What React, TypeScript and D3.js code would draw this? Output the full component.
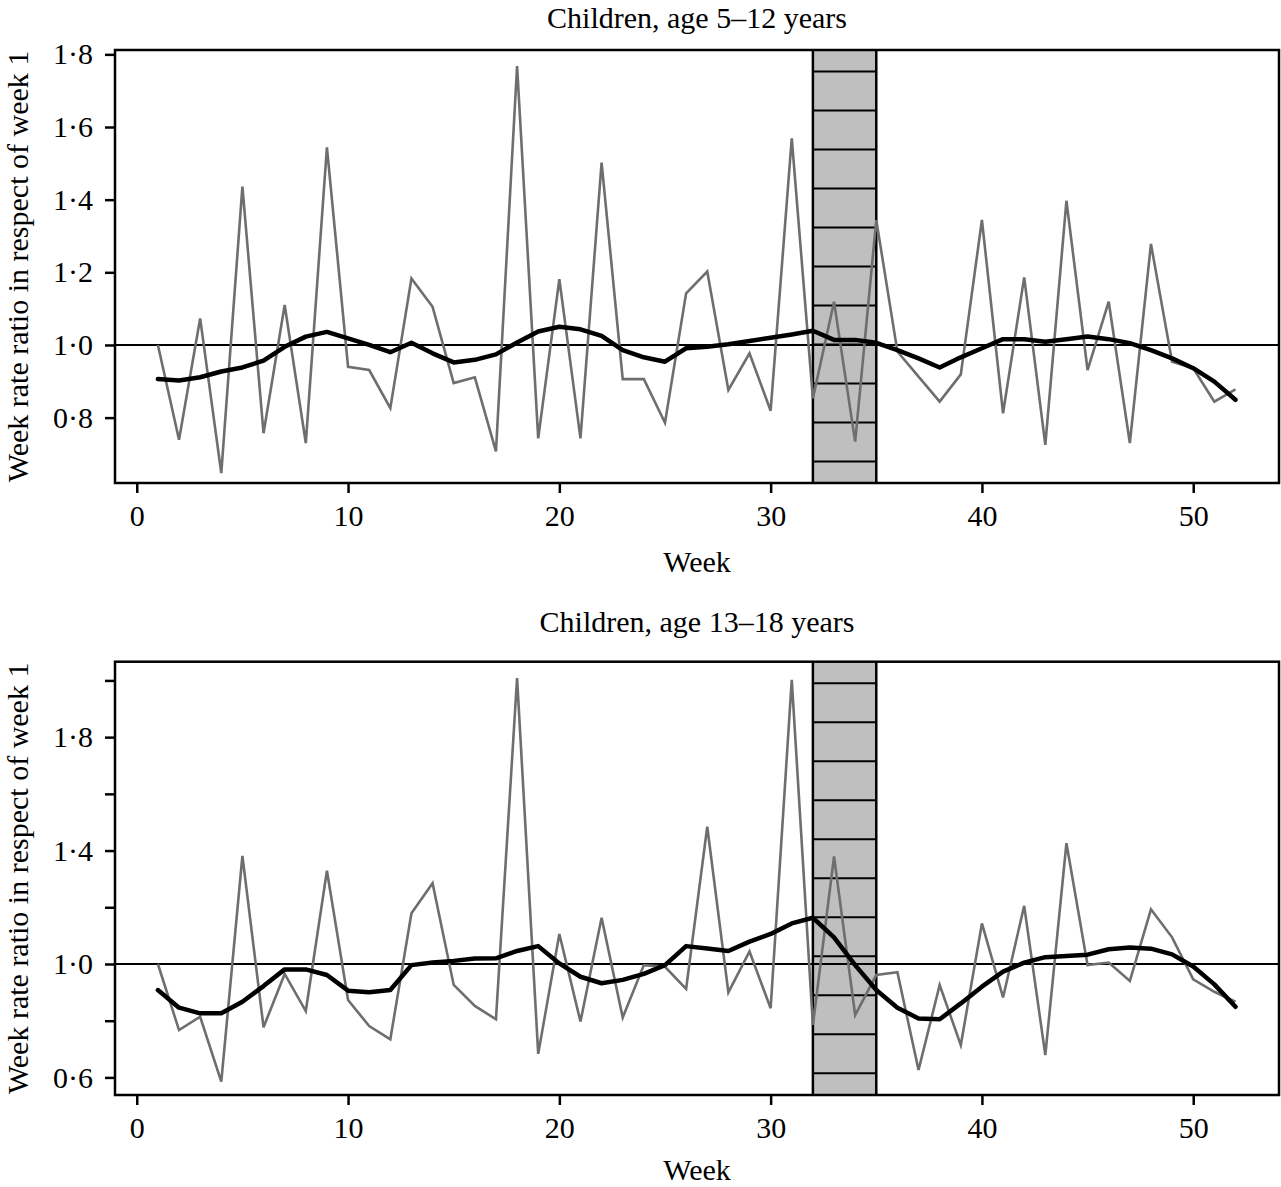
import { useEffect, useRef } from 'react';
import * as d3 from 'd3';

const weeks = [
  1, 2, 3, 4, 5, 6, 7, 8, 9, 10, 11, 12, 13, 14, 15, 16, 17, 18, 19, 20, 21, 22, 23, 24, 25, 26,
  27, 28, 29, 30, 31, 32, 33, 34, 35, 36, 37, 38, 39, 40, 41, 42, 43, 44, 45, 46, 47, 48, 49, 50,
  51, 52,
];

// age 5-12: weekly rate ratio (grey) and smoothed trend (black)
const rate5to12 = [
  1.0, 0.739, 1.073, 0.647, 1.436, 0.757, 1.11, 0.73, 1.544, 0.94, 0.931, 0.826, 1.183, 1.105,
  0.895, 0.911, 0.707, 1.768, 0.743, 1.181, 0.743, 1.502, 0.906, 0.906, 0.786, 1.142, 1.202, 0.876,
  0.977, 0.819, 1.569, 0.853, 1.119, 0.734, 1.344, 0.982, 0.913, 0.844, 0.919, 1.344, 0.812, 1.186,
  0.725, 1.397, 0.931, 1.119, 0.73, 1.278, 0.954, 0.936, 0.844, 0.878,
];
const smooth5to12 = [
  0.906, 0.902, 0.911, 0.927, 0.938, 0.957, 0.995, 1.023, 1.036, 1.018, 1.0, 0.98, 1.006, 0.977,
  0.952, 0.959, 0.974, 1.007, 1.037, 1.05, 1.043, 1.025, 0.986, 0.966, 0.954, 0.991, 0.995, 1.002,
  1.011, 1.02, 1.029, 1.039, 1.014, 1.014, 1.006, 0.986, 0.963, 0.938, 0.966, 0.991, 1.016, 1.016,
  1.009, 1.016, 1.023, 1.016, 1.005, 0.986, 0.963, 0.936, 0.899, 0.849,
];

// age 13-18
const rate13to18 = [
  1.0, 0.767, 0.814, 0.585, 1.381, 0.777, 0.965, 0.834, 1.329, 0.873, 0.781, 0.734, 1.179, 1.285,
  0.926, 0.852, 0.805, 2.008, 0.683, 1.106, 0.797, 1.163, 0.811, 0.996, 0.99, 0.912, 1.484, 0.9,
  1.044, 0.844, 2.002, 0.785, 1.379, 0.82, 0.961, 0.971, 0.626, 0.926, 0.714, 1.143, 0.882, 1.205,
  0.679, 1.426, 0.996, 1.005, 0.94, 1.193, 1.094, 0.946, 0.902, 0.867,
];
const smooth13to18 = [
  0.908, 0.846, 0.826, 0.826, 0.867, 0.922, 0.981, 0.981, 0.961, 0.906, 0.9, 0.908, 0.996, 1.005,
  1.011, 1.019, 1.02, 1.046, 1.063, 1.002, 0.955, 0.932, 0.944, 0.965, 0.996, 1.063, 1.055, 1.046,
  1.079, 1.106, 1.143, 1.163, 1.094, 0.996, 0.908, 0.846, 0.808, 0.805, 0.861, 0.92, 0.973, 1.005,
  1.024, 1.028, 1.033, 1.052, 1.058, 1.054, 1.034, 0.991, 0.928, 0.849,
];

const holidayWeeks = [32, 35];
const xTicks = [0, 10, 20, 30, 40, 50];
const yTicks5to12 = [0.8, 1.0, 1.2, 1.4, 1.6, 1.8];
const yTicks13to18 = [0.6, 0.8, 1.0, 1.2, 1.4, 1.6, 1.8, 2.0];
const yLabels13to18 = [0.6, 1.0, 1.4, 1.8];
const titles = ['Children, age 5–12 years', 'Children, age 13–18 years'];

const W = 1281;
const H = 1187;
const FONT = '"Liberation Serif", "DejaVu Serif", serif';

export default function App() {
  const svgRef = useRef<SVGSVGElement>(null);

  useEffect(() => {
    if (!svgRef.current) return;
    const root = d3.select(svgRef.current);
    root.selectAll('*').remove();

    const left = 115;
    const right = 1279;
    const x = d3.scaleLinear().domain([-1.03, 54.06]).range([left, right]);
    const dot = (v: number) => d3.format('.1f')(v).replace('.', '·');

    const panels = [
      {
        title: titles[0], rate: rate5to12, smooth: smooth5to12,
        domain: [0.62, 1.812], top: 50, bottom: 483,
        ticks: yTicks5to12, labels: yTicks5to12, titleY: 28, weekY: 572,
      },
      {
        title: titles[1], rate: rate13to18, smooth: smooth13to18,
        domain: [0.538, 2.066], top: 661.7, bottom: 1095,
        ticks: yTicks13to18, labels: yLabels13to18, titleY: 632, weekY: 1180,
      },
    ];

    for (const p of panels) {
      const y = d3.scaleLinear().domain(p.domain).range([p.bottom, p.top]);
      const g = root.append('g');

      // shaded holiday band with horizontal hatch
      const bx0 = x(holidayWeeks[0]);
      const bx1 = x(holidayWeeks[1]);
      g.append('rect')
        .attr('x', bx0).attr('y', p.top)
        .attr('width', bx1 - bx0).attr('height', p.bottom - p.top)
        .attr('fill', '#bfbfbf');
      g.selectAll('.hatch')
        .data(d3.range(p.top + 21.5, p.bottom - 5, 39))
        .enter().append('line')
        .attr('x1', bx0).attr('x2', bx1)
        .attr('y1', (d) => d).attr('y2', (d) => d)
        .attr('stroke', '#000').attr('stroke-width', 2);
      for (const bx of [bx0, bx1]) {
        g.append('line')
          .attr('x1', bx).attr('x2', bx).attr('y1', p.top).attr('y2', p.bottom)
          .attr('stroke', '#000').attr('stroke-width', 2.5);
      }

      // reference line at 1
      g.append('line')
        .attr('x1', left).attr('x2', right)
        .attr('y1', y(1)).attr('y2', y(1))
        .attr('stroke', '#000').attr('stroke-width', 2);

      const line = d3.line<number>()
        .x((_, i) => x(weeks[i]))
        .y((d) => y(d));

      g.append('path')
        .datum(p.rate)
        .attr('fill', 'none')
        .attr('stroke', '#6e6e6e')
        .attr('stroke-width', 2.6)
        .attr('stroke-linejoin', 'miter')
        .attr('d', line);

      g.append('path')
        .datum(p.smooth)
        .attr('fill', 'none')
        .attr('stroke', '#000')
        .attr('stroke-width', 4.5)
        .attr('stroke-linejoin', 'round')
        .attr('stroke-linecap', 'round')
        .attr('d', line);

      // frame
      g.append('rect')
        .attr('x', left).attr('y', p.top)
        .attr('width', right - left).attr('height', p.bottom - p.top)
        .attr('fill', 'none').attr('stroke', '#000').attr('stroke-width', 2.5);

      // axes
      const xa = g.append('g')
        .attr('transform', `translate(0,${p.bottom})`)
        .call(d3.axisBottom(x).tickValues(xTicks).tickSize(10).tickPadding(12).tickFormat(d3.format('d')));
      const ya = g.append('g')
        .attr('transform', `translate(${left},0)`)
        .call(
          d3.axisLeft(y).tickValues(p.ticks).tickSize(10).tickPadding(12)
            .tickFormat((d) => (p.labels.some((l) => Math.abs(l - (d as number)) < 1e-9) ? dot(d as number) : '')),
        );
      for (const a of [xa, ya]) {
        a.select('.domain').remove();
        a.selectAll('.tick line').attr('stroke', '#000').attr('stroke-width', 2.5);
        a.selectAll('text')
          .attr('fill', '#000')
          .style('font-family', FONT)
          .style('font-size', '30px');
      }

      // labels
      g.append('text')
        .attr('x', (left + right) / 2).attr('y', p.titleY)
        .attr('text-anchor', 'middle')
        .style('font-family', FONT).style('font-size', '30px')
        .text(p.title);
      g.append('text')
        .attr('x', (left + right) / 2).attr('y', p.weekY)
        .attr('text-anchor', 'middle')
        .style('font-family', FONT).style('font-size', '30px')
        .text('Week');
      g.append('text')
        .attr('transform', `translate(28,${(p.top + p.bottom) / 2}) rotate(-90)`)
        .attr('text-anchor', 'middle')
        .style('font-family', FONT).style('font-size', '30px')
        .text('Week rate ratio in respect of week 1');
    }
  }, []);

  return (
    <svg
      ref={svgRef}
      width={W}
      height={H}
      style={{ position: 'absolute', left: 0, top: 0, display: 'block', background: '#fff' }}
    />
  );
}
